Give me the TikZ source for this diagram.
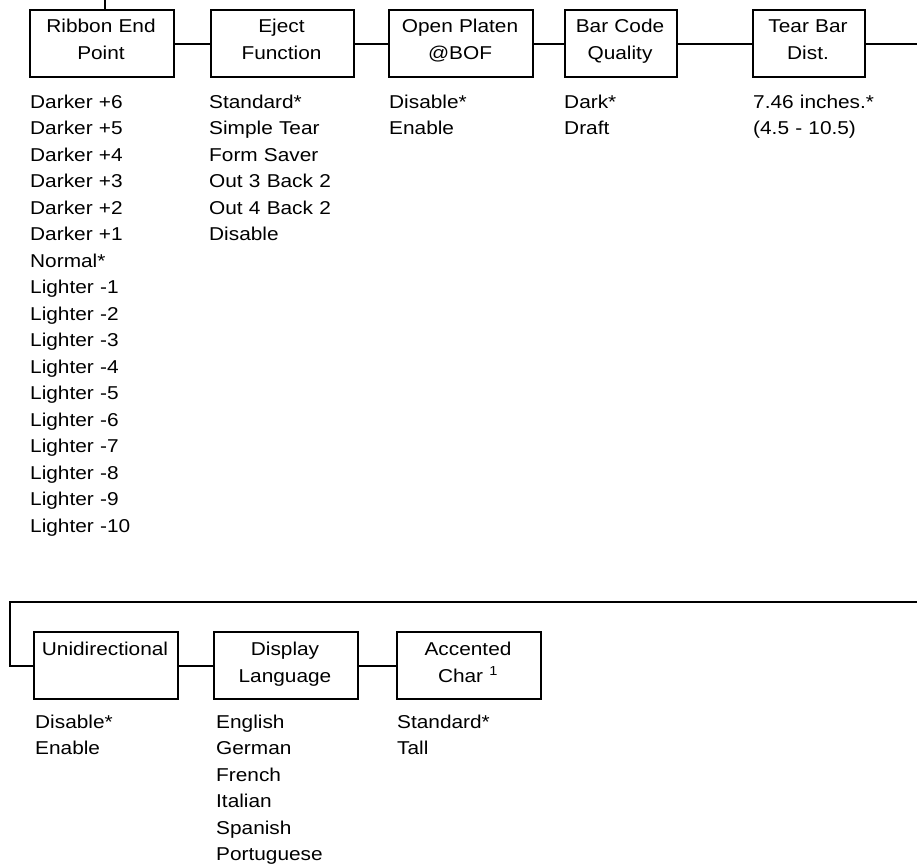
\documentclass[tikz,border=0pt]{standalone}
\usepackage{fontspec}
\setmainfont{Liberation Sans}[FakeStretch=1.12]
\begin{document}
\begin{tikzpicture}[x=1pt,y=-1pt,
  box/.style={draw, line width=2.2pt, minimum height=67pt, inner sep=0pt, anchor=north west},
  lbl/.style={anchor=base, align=center, text width=142pt, inner sep=0pt, font=\fontsize{18.6}{27}\selectfont},
  lst/.style={anchor=base west, align=left, text width=200pt, inner sep=0pt, font=\fontsize{18.6}{26.5}\selectfont},
  conn/.style={line width=2.2pt}]
\useasboundingbox (0,0) rectangle (917,865);
% top row boxes
\node[box, minimum width=144pt] (b1) at (29,9) {};
\node[box, minimum width=143pt] (b2) at (210,9) {};
\node[box, minimum width=144pt] (b3) at (388,9) {};
\node[box, minimum width=112pt] (b4) at (564,9) {};
\node[box, minimum width=112pt] (b5) at (752,9) {};
% top labels
\node[lbl] (t1) at (101,32) {Ribbon End\\Point};
\node[lbl] (t2) at (281.5,32) {Eject\\Function};
\node[lbl] (t3) at (460,32) {Open Platen\\@BOF};
\node[lbl] (t4) at (620,32) {Bar Code\\Quality};
\node[lbl] (t5) at (808,32) {Tear Bar\\Dist.};
% top connectors
\coordinate (top0) at (105,0);
\coordinate (right0) at (917,0);
\draw[conn] (top0) -- (top0 |- b1.north);
\draw[conn] (b1.east) -- (b2.west);
\draw[conn] (b2.east) -- (b3.west);
\draw[conn] (b3.east) -- (b4.west);
\draw[conn] (b4.east) -- (b5.west);
\draw[conn] (b5.east) -- (b5.east -| right0);
% top lists
\node[lst] (l1) at (30,108) {Darker +6\\Darker +5\\Darker +4\\Darker +3\\Darker +2\\Darker +1\\Normal*\\Lighter -1\\Lighter -2\\Lighter -3\\Lighter -4\\Lighter -5\\Lighter -6\\Lighter -7\\Lighter -8\\Lighter -9\\Lighter -10};
\node[lst] (l2) at (209,108) {Standard*\\Simple Tear\\Form Saver\\Out 3 Back 2\\Out 4 Back 2\\Disable};
\node[lst] (l3) at (389,108) {Disable*\\Enable};
\node[lst] (l4) at (564,108) {Dark*\\Draft};
\node[lst] (l5) at (753,108) {7.46 inches.*\\(4.5 - 10.5)};
% bottom row boxes
\node[box, minimum width=144pt] (c1) at (33,631) {};
\node[box, minimum width=144pt] (c2) at (213,631) {};
\node[box, minimum width=144pt] (c3) at (396,631) {};
\node[lbl] (u1) at (105,655) {Unidirectional};
\node[lbl] (u2) at (285,655) {Display\\Language};
\node[lbl] (u3) at (468,655) {Accented\\Char \textsuperscript{1}};
% bottom connectors
\coordinate (loopR) at (917,602);
\coordinate (loopL) at (10,602);
\draw[conn] (loopR) -- (loopL) -- (loopL |- c1.west) -- (c1.west);
\draw[conn] (c1.east) -- (c2.west);
\draw[conn] (c2.east) -- (c3.west);
% bottom lists
\node[lst] (m1) at (35,728) {Disable*\\Enable};
\node[lst] (m2) at (216,728) {English\\German\\French\\Italian\\Spanish\\Portuguese};
\node[lst] (m3) at (397,728) {Standard*\\Tall};
\end{tikzpicture}
\end{document}
